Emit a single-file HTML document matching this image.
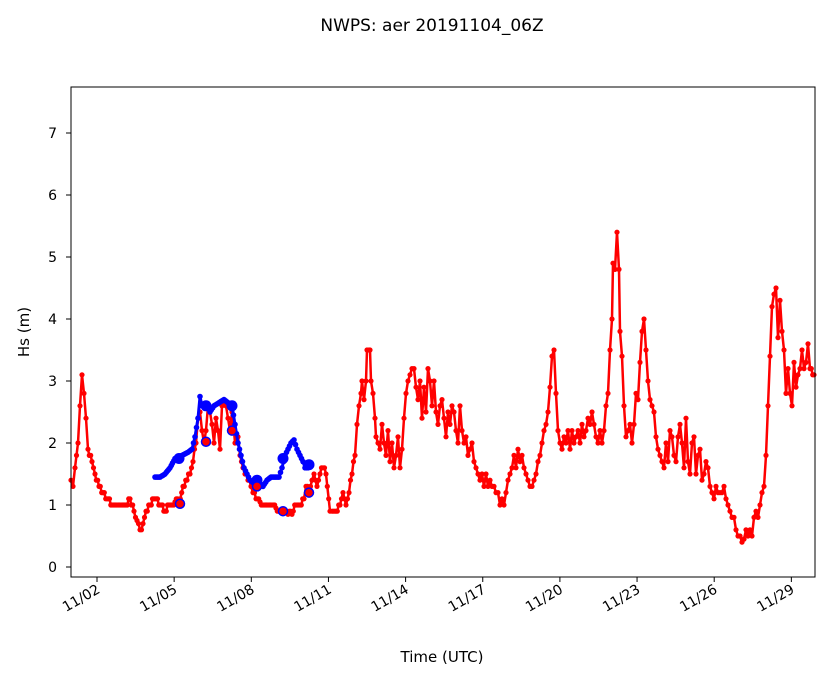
<!DOCTYPE html>
<html><head><meta charset="utf-8"><style>body{margin:0;background:#fff}svg{display:block}text{font-family:"DejaVu Sans","Liberation Sans",sans-serif;fill:#000}</style></head>
<body>
<svg id="s" width="833" height="681" viewBox="0 0 833 681" xmlns="http://www.w3.org/2000/svg">
<text x="432" y="31" font-size="17" text-anchor="middle">NWPS: aer 20191104_06Z</text>
<g id="plot"></g>
<rect x="71" y="87" width="744" height="490" fill="none" stroke="#000" stroke-width="1"/>
<g font-size="14" text-anchor="end">
<text x="57" y="572">0</text><text x="57" y="510">1</text><text x="57" y="448">2</text><text x="57" y="386">3</text><text x="57" y="324">4</text><text x="57" y="262">5</text><text x="57" y="200">6</text><text x="57" y="138">7</text>
</g>
<g stroke="#000"><line x1="66" x2="71" y1="567" y2="567"/><line x1="66" x2="71" y1="505" y2="505"/><line x1="66" x2="71" y1="443" y2="443"/><line x1="66" x2="71" y1="381" y2="381"/><line x1="66" x2="71" y1="319" y2="319"/><line x1="66" x2="71" y1="257" y2="257"/><line x1="66" x2="71" y1="195" y2="195"/><line x1="66" x2="71" y1="133" y2="133"/></g>
<g id="xt" font-size="14" text-anchor="end"></g>
<text x="442" y="662" font-size="15" text-anchor="middle">Time (UTC)</text>
<text transform="translate(29,332) rotate(-90)" font-size="15" text-anchor="middle">Hs (m)</text>
</svg>
<script>
var NS="http://www.w3.org/2000/svg";
function el(p,t,a){var e=document.createElementNS(NS,t);for(var k in a)e.setAttribute(k,a[k]);p.appendChild(e);return e;}
var xt=document.getElementById("xt"),sv=document.getElementById("s");
var labs=["11/02","11/05","11/08","11/11","11/14","11/17","11/20","11/23","11/26","11/29"];
for(var i=0;i<labs.length;i++){var x=97+i*77.15;el(sv,"line",{x1:x,x2:x,y1:577,y2:582,stroke:"#000"});var t=el(xt,"text",{transform:"translate("+(x+4)+",592) rotate(-30)"});t.textContent=labs[i];}
var Y=function(v){return 567-62*v;};
var R="71:1.4,73:1.3,75:1.6,78:2.0,80:2.6,82:3.1,84:2.8,86:2.4,88:1.9,92:1.7,95:1.5,99:1.3,103:1.2,107:1.1,112:1.0,117:1.0,121:1.0,126:1.0,130:1.1,134:0.9,137:0.75,140:0.6,143:0.7,146:0.9,150:1.0,155:1.1,160:1.0,165:0.9,170:1.0,175:1.05,179:1.05,183:1.3,187:1.4,190:1.5,193:1.7,196:2.0,198:2.4,200:2.5,202:2.2,204:2.0,206:2.2,208:2.6,210:2.5,212:2.3,214:2.0,216:2.4,218:2.2,220:1.9,222:2.6,224:2.7,226:2.6,228:2.4,230:2.2,232:2.5,235:2.0,238:2.1,240:1.8,243:1.6,245:1.5,248:1.4,251:1.3,253:1.2,256:1.1,260:1.05,264:1.0,268:1.0,272:1.0,276:0.95,280:0.9,284:0.9,288:0.85,292:0.85,296:1.0,300:1.0,304:1.1,306:1.3,309:1.2,312:1.4,314:1.5,317:1.3,320:1.5,323:1.6,326:1.5,330:0.9,332:0.9,336:0.9,340:1.0,343:1.2,346:1.0,349:1.2,352:1.5,355:1.8,357:2.3,359:2.6,361:2.8,362:3.0,364:2.7,366:3.0,367:3.5,369:3.5,370:3.5,371:3.0,373:2.8,375:2.4,376:2.1,378:2.0,380:1.9,382:2.3,384:2.0,386:1.8,388:2.2,390:1.7,392:2.0,394:1.6,396:1.8,398:2.1,400:1.6,402:1.9,404:2.4,406:2.8,408:3.0,410:3.1,412:3.2,414:3.2,416:2.9,418:2.7,420:3.0,422:2.4,424:2.9,426:2.5,428:3.2,430:3.0,432:2.6,434:3.0,436:2.5,438:2.3,440:2.6,442:2.7,444:2.4,446:2.1,448:2.5,450:2.3,452:2.6,454:2.5,456:2.2,458:2.0,460:2.6,462:2.2,464:2.0,466:2.1,468:1.8,470:1.9,472:2.0,474:1.7,476:1.6,478:1.5,480:1.4,482:1.5,484:1.3,486:1.5,488:1.3,490:1.4,492:1.3,494:1.3,496:1.2,498:1.2,500:1.0,502:1.1,504:1.0,506:1.2,508:1.4,510:1.5,512:1.6,514:1.8,516:1.6,518:1.9,520:1.7,522:1.8,524:1.6,526:1.5,528:1.4,530:1.3,532:1.3,534:1.4,536:1.5,538:1.7,540:1.8,542:2.0,544:2.2,546:2.3,548:2.5,550:2.9,552:3.4,554:3.5,556:2.8,558:2.2,560:2.0,562:1.9,564:2.1,566:2.0,568:2.2,570:1.9,572:2.2,574:2.0,576:2.1,578:2.2,580:2.0,582:2.3,584:2.1,586:2.2,588:2.4,590:2.3,592:2.5,594:2.3,596:2.1,598:2.0,600:2.2,602:2.0,604:2.2,606:2.6,608:2.8,610:3.5,612:4.0,613:4.9,615:4.8,617:5.4,619:4.8,620:3.8,622:3.4,624:2.6,626:2.1,628:2.2,630:2.3,632:2.0,634:2.3,636:2.8,638:2.7,640:3.3,642:3.8,644:4.0,646:3.5,648:3.0,650:2.7,652:2.6,654:2.5,656:2.1,658:1.9,660:1.8,662:1.7,664:1.6,666:2.0,668:1.7,670:2.2,672:2.1,674:1.8,676:1.7,678:2.1,680:2.3,682:2.0,684:1.6,686:2.4,688:1.7,690:1.5,692:2.0,694:2.1,696:1.5,698:1.8,700:1.9,702:1.4,704:1.5,706:1.7,708:1.6,710:1.3,712:1.2,714:1.1,716:1.3,718:1.2,720:1.2,722:1.2,724:1.3,726:1.1,728:1.0,730:0.9,732:0.8,734:0.8,736:0.6,738:0.5,740:0.5,742:0.4,744:0.45,746:0.6,748:0.5,750:0.6,752:0.5,754:0.8,756:0.9,758:0.8,760:1.0,762:1.2,764:1.3,766:1.8,768:2.6,770:3.4,772:4.2,774:4.4,776:4.5,778:3.7,780:4.3,782:3.8,784:3.5,786:2.8,788:3.2,790:2.8,792:2.6,794:3.3,796:2.9,798:3.1,800:3.2,802:3.5,804:3.2,806:3.3,808:3.6,810:3.2,814:3.1";
var B="155:1.45,160:1.45,165:1.5,170:1.6,175:1.75,182:1.8,188:1.85,192:1.9,195:2.1,198:2.4,200:2.75,202:2.6,205:2.6,208:2.6,210:2.5,214:2.6,219:2.65,224:2.7,228:2.65,232:2.6,235:2.3,238:2.0,241:1.8,244:1.6,247:1.5,250:1.4,254:1.35,257:1.3,260:1.35,263:1.3,267:1.4,271:1.45,275:1.45,279:1.45,282:1.6,285:1.8,288:1.9,291:2.0,294:2.05,297:1.9,300:1.8,303:1.7,305:1.6,308:1.6,311:1.65";
var g=document.getElementById("plot");
function draw(s,c,w,r,q){var pts=s.split(",").map(function(p){var a=p.split(":");return [+a[0],+a[1]];});
var dots=[];for(var i=0;i<pts.length;i++){dots.push([pts[i][0],Y(pts[i][1])]);if(i<pts.length-1){var a=pts[i],b=pts[i+1],n=Math.floor((b[0]-a[0])/1.1);for(var k=1;k<n;k++){var f=k/n,v=a[1]+f*(b[1]-a[1]);if(q)v=Math.round(v*10)/10;dots.push([a[0]+f*(b[0]-a[0]),Y(v)]);}}}
el(g,"polyline",{points:dots.map(function(p){return p[0].toFixed(1)+","+p[1].toFixed(1)}).join(" "),fill:"none",stroke:c,"stroke-width":w,"stroke-linejoin":"round"});
dots.forEach(function(p){el(g,"circle",{cx:p[0].toFixed(1),cy:p[1].toFixed(1),r:r,fill:c});});}
draw(R,"#f00",2.5,2.6,true);draw(B,"#00f",3,2.8,false);
[[179,1.75],[206,2.6],[232,2.6],[257,1.4],[283,1.75],[309,1.65]].forEach(function(p){el(g,"circle",{cx:p[0],cy:Y(p[1]),r:5.5,fill:"#00f"});});
[[180,1.02],[206,2.02],[232,2.2],[257,1.3],[283,0.9],[309,1.2]].forEach(function(p){el(g,"circle",{cx:p[0],cy:Y(p[1]),r:4.5,fill:"#f00",stroke:"#00f","stroke-width":1.5});});
</script>
</body></html>
